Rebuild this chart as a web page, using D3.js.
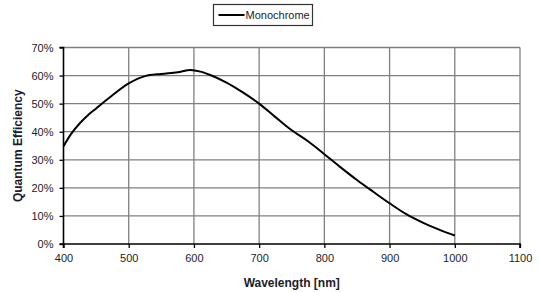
<!DOCTYPE html>
<html lang="en">
<head>
    <meta charset="UTF-8">
    <title>Quantum Efficiency</title>
    <script src="https://d3js.org/d3.v7.min.js"></script>
    <style>
        body { margin: 0; background: #fff; }
        text { font-family: "Liberation Sans", Arial, sans-serif; }
    </style>
</head>
<body>
    <div id="chart"></div>
    <script>
        // 数据
        const wavelength = [400, 412, 425, 437, 450, 475, 500, 525, 550, 575, 595, 610, 625, 650, 675, 700,
            725, 750, 775, 800, 825, 850, 875, 900, 925, 950, 975, 1000]
        const qe = [0.348, 0.393, 0.430, 0.458, 0.483, 0.530, 0.572, 0.598, 0.606, 0.612, 0.620, 0.614, 0.602, 0.575,
            0.54, 0.50, 0.452, 0.405, 0.366, 0.32, 0.273, 0.228, 0.186, 0.145, 0.107, 0.077, 0.052, 0.03]
        const xTicks = [400, 500, 600, 700, 800, 900, 1000, 1100]
        const yTicks = [0, 0.1, 0.2, 0.3, 0.4, 0.5, 0.6, 0.7]
        const seriesName = "Monochrome"

        const width = 539, height = 292
        const margin = {left: 63.5, right: 19, top: 47.5, bottom: 48}

        const svg = d3.select("#chart").append("svg")
            .attr("width", width)
            .attr("height", height)

        const x = d3.scaleLinear().domain([400, 1100]).range([margin.left, width - margin.right])
        const y = d3.scaleLinear().domain([0, 0.7]).range([height - margin.bottom, margin.top])

        // 网格线
        const grid = svg.append("g")
        grid.selectAll("line.v").data(xTicks.slice(1)).join("line")
            .attr("x1", d => x(d)).attr("x2", d => x(d))
            .attr("y1", y(0)).attr("y2", y(0.7))
            .attr("stroke", "#808080").attr("stroke-width", 1.3)
        grid.selectAll("line.h").data(yTicks.slice(1)).join("line")
            .attr("x1", x(400)).attr("x2", x(1100))
            .attr("y1", d => y(d)).attr("y2", d => y(d))
            .attr("stroke", "#808080").attr("stroke-width", 1.3)

        // 坐标轴
        const xAxis = svg.append("g")
            .attr("transform", "translate(0," + y(0) + ")")
            .call(d3.axisBottom(x).tickValues(xTicks).tickSize(4).tickPadding(6).tickFormat(d3.format("d")))
        const yAxis = svg.append("g")
            .attr("transform", "translate(" + x(400) + ",0)")
            .call(d3.axisLeft(y).tickValues(yTicks).tickSize(4).tickPadding(6).tickFormat(d3.format(".0%")))

        ;[xAxis, yAxis].forEach(a => {
            a.select(".domain").attr("stroke", "#000").attr("stroke-width", 1.6)
            a.selectAll(".tick line").attr("stroke", "#000").attr("stroke-width", 1.3)
            a.selectAll(".tick text")
                .attr("fill", "#1c1c2a")
                .style("font-family", "'Liberation Sans', Arial, sans-serif")
                .style("font-size", "11px")
        })
        xAxis.select(".domain").attr("d", "M" + x(400) + ",4V0H" + x(1100) + "V4")
        yAxis.select(".domain").attr("d", "M-4," + y(0.7) + "H0V" + y(0) + "H-4")

        // 曲线
        const line = d3.line()
            .x((d, i) => x(wavelength[i]))
            .y(d => y(d))
            .curve(d3.curveMonotoneX)
        svg.append("path")
            .datum(qe)
            .attr("d", line)
            .attr("fill", "none")
            .attr("stroke", "#000")
            .attr("stroke-width", 2)

        // 轴标题
        svg.append("text")
            .attr("x", (x(400) + x(1100)) / 2)
            .attr("y", 287)
            .attr("text-anchor", "middle")
            .style("font-size", "12px")
            .style("font-weight", "bold")
            .attr("fill", "#1c1c2a")
            .text("Wavelength [nm]")
        svg.append("text")
            .attr("transform", "translate(22," + ((y(0) + y(0.7)) / 2) + ") rotate(-90)")
            .attr("text-anchor", "middle")
            .style("font-size", "12px")
            .style("font-weight", "bold")
            .attr("fill", "#1c1c2a")
            .text("Quantum Efficiency")

        // 图例
        const legend = svg.append("g").attr("transform", "translate(213.5,4.5)")
        legend.append("rect")
            .attr("width", 99).attr("height", 21)
            .attr("fill", "#fff").attr("stroke", "#333").attr("stroke-width", 1.2)
        legend.append("line")
            .attr("x1", 5).attr("x2", 31).attr("y1", 10.5).attr("y2", 10.5)
            .attr("stroke", "#000").attr("stroke-width", 2)
        legend.append("text")
            .attr("x", 32).attr("y", 14.5)
            .style("font-size", "11px")
            .attr("fill", "#1c1c2a")
            .text(seriesName)
    </script>
</body>
</html>
